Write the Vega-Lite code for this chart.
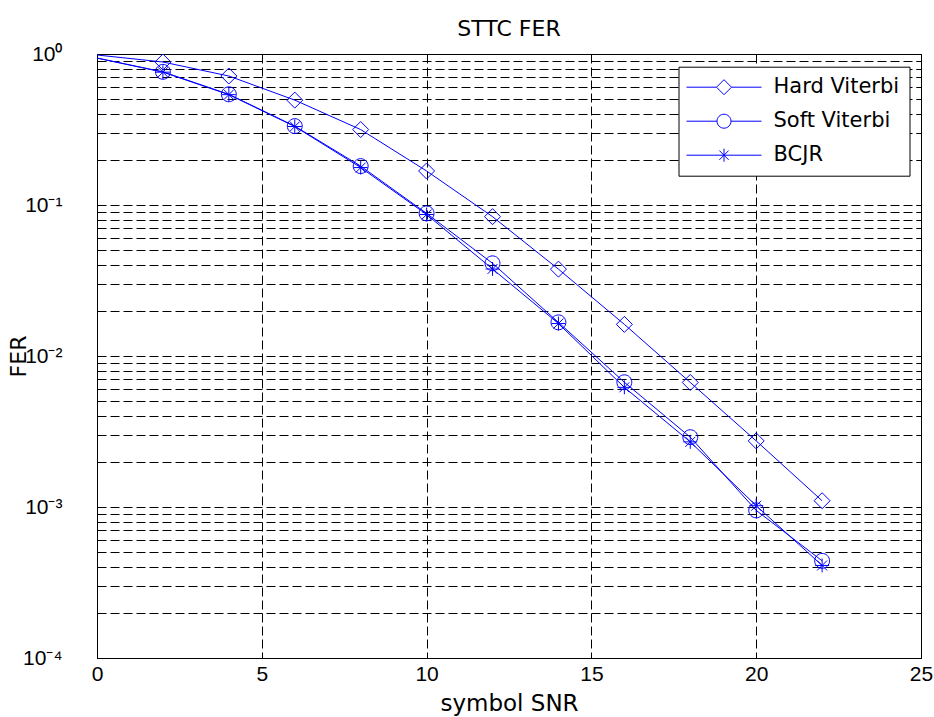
{
  "$schema": "https://vega.github.io/schema/vega-lite/v6.json",
  "width": 824,
  "height": 604,
  "autosize": {"type": "none"},
  "padding": {"left": 97, "top": 54, "right": 13, "bottom": 59},
  "background": "white",
  "config": {
    "view": {"stroke": "black", "strokeWidth": 1},
    "axis": {"labelColor": "black", "titleColor": "black", "tickColor": "black", "domainColor": "black"}
  },
  "title": {"text": "STTC FER", "font": "DejaVu Sans", "fontSize": 22, "fontWeight": "normal", "color": "black", "anchor": "middle", "frame": "group", "offset": 10, "baseline": "bottom", "dy": 30},
  "data": {
    "values": [
      {"series": "Hard Viterbi", "snr": 0, "fer": 0.985},
      {"series": "Hard Viterbi", "snr": 2, "fer": 0.885},
      {"series": "Hard Viterbi", "snr": 4, "fer": 0.715},
      {"series": "Hard Viterbi", "snr": 6, "fer": 0.495},
      {"series": "Hard Viterbi", "snr": 8, "fer": 0.316},
      {"series": "Hard Viterbi", "snr": 10, "fer": 0.168},
      {"series": "Hard Viterbi", "snr": 12, "fer": 0.0837},
      {"series": "Hard Viterbi", "snr": 14, "fer": 0.0376},
      {"series": "Hard Viterbi", "snr": 16, "fer": 0.0162},
      {"series": "Hard Viterbi", "snr": 18, "fer": 0.00668},
      {"series": "Hard Viterbi", "snr": 20, "fer": 0.00274},
      {"series": "Hard Viterbi", "snr": 22, "fer": 0.0011},
      {"series": "Soft Viterbi", "snr": 0, "fer": 0.94},
      {"series": "Soft Viterbi", "snr": 2, "fer": 0.762},
      {"series": "Soft Viterbi", "snr": 4, "fer": 0.541},
      {"series": "Soft Viterbi", "snr": 6, "fer": 0.333},
      {"series": "Soft Viterbi", "snr": 8, "fer": 0.181},
      {"series": "Soft Viterbi", "snr": 10, "fer": 0.088},
      {"series": "Soft Viterbi", "snr": 12, "fer": 0.0411},
      {"series": "Soft Viterbi", "snr": 14, "fer": 0.0167},
      {"series": "Soft Viterbi", "snr": 16, "fer": 0.0067},
      {"series": "Soft Viterbi", "snr": 18, "fer": 0.0029},
      {"series": "Soft Viterbi", "snr": 20, "fer": 0.00095},
      {"series": "Soft Viterbi", "snr": 22, "fer": 0.00044},
      {"series": "BCJR", "snr": 0, "fer": 0.94},
      {"series": "BCJR", "snr": 2, "fer": 0.758},
      {"series": "BCJR", "snr": 4, "fer": 0.538},
      {"series": "BCJR", "snr": 6, "fer": 0.331},
      {"series": "BCJR", "snr": 8, "fer": 0.177},
      {"series": "BCJR", "snr": 10, "fer": 0.0865},
      {"series": "BCJR", "snr": 12, "fer": 0.0377},
      {"series": "BCJR", "snr": 14, "fer": 0.0164},
      {"series": "BCJR", "snr": 16, "fer": 0.0062},
      {"series": "BCJR", "snr": 18, "fer": 0.0027},
      {"series": "BCJR", "snr": 20, "fer": 0.00102},
      {"series": "BCJR", "snr": 22, "fer": 0.00041}
    ]
  },
  "layer": [
    {
      "mark": {"type": "line", "color": "#0000ff", "strokeWidth": 1, "clip": true},
      "encoding": {
        "x": {
          "field": "snr", "type": "quantitative",
          "scale": {"domain": [0, 25], "nice": false, "zero": false},
          "axis": {
            "orient": "bottom", "values": [0, 5, 10, 15, 20, 25],
            "grid": true, "gridDash": [9, 4], "gridColor": "black", "gridOpacity": 1, "gridWidth": 1,
            "tickSize": -5, "labelPadding": 10, "labelFont": "Liberation Sans", "labelFontSize": 21,
            "labelFlush": false, "labelBound": false, "labelOverlap": false,
            "title": "symbol SNR", "titleFont": "DejaVu Sans", "titleFontSize": 23, "titleFontWeight": "normal",
            "titleBaseline": "alphabetic", "titleY": 52
          }
        },
        "y": {
          "field": "fer", "type": "quantitative",
          "scale": {"type": "log", "domain": [0.0001, 1], "nice": false},
          "axis": {
            "orient": "left",
            "values": [0.0001, 0.0002, 0.0003, 0.0004, 0.0005, 0.0006, 0.0007, 0.0008, 0.0009, 0.001, 0.002, 0.003, 0.004, 0.005, 0.006, 0.007, 0.008, 0.009, 0.01, 0.02, 0.03, 0.04, 0.05, 0.06, 0.07, 0.08, 0.09, 0.1, 0.2, 0.3, 0.4, 0.5, 0.6, 0.7, 0.8, 0.9, 1],
            "labelExpr": "abs(log(datum.value)/LN10 - round(log(datum.value)/LN10)) < 0.001 ? (round(log(datum.value)/LN10) == 0 ? '10⁰' : round(log(datum.value)/LN10) == -1 ? '10⁻¹' : round(log(datum.value)/LN10) == -2 ? '10⁻²' : round(log(datum.value)/LN10) == -3 ? '10⁻³' : '10⁻⁴') : ''",
            "grid": true, "gridDash": [9, 4], "gridColor": "black", "gridOpacity": 1, "gridWidth": 1,
            "tickSize": -5, "labelPadding": 40, "labelFont": "Liberation Sans", "labelFontSize": 21,
            "labelFlush": false, "labelBound": false, "labelOverlap": false,
            "title": "FER", "titleFont": "DejaVu Sans", "titleFontSize": 22, "titleFontWeight": "normal",
            "titleBaseline": "alphabetic", "titleX": -72
          }
        },
        "detail": {"field": "series", "type": "nominal"}
      }
    },
    {
      "transform": [{"filter": "datum.snr > 0"}],
      "mark": {"type": "point", "filled": false, "color": "#0000ff", "strokeWidth": 1, "opacity": 1, "size": 256},
      "encoding": {
        "x": {
          "field": "snr", "type": "quantitative",
          "scale": {"domain": [0, 25], "nice": false, "zero": false},
          "axis": {"orient": "top", "values": [0, 5, 10, 15, 20, 25], "labels": false, "grid": false, "domain": false, "tickSize": -5, "title": null}
        },
        "y": {
          "field": "fer", "type": "quantitative",
          "scale": {"type": "log", "domain": [0.0001, 1], "nice": false},
          "axis": {
            "orient": "right",
            "values": [0.0001, 0.0002, 0.0003, 0.0004, 0.0005, 0.0006, 0.0007, 0.0008, 0.0009, 0.001, 0.002, 0.003, 0.004, 0.005, 0.006, 0.007, 0.008, 0.009, 0.01, 0.02, 0.03, 0.04, 0.05, 0.06, 0.07, 0.08, 0.09, 0.1, 0.2, 0.3, 0.4, 0.5, 0.6, 0.7, 0.8, 0.9, 1],
            "labels": false, "grid": false, "domain": false, "tickSize": -5, "title": null
          }
        },
        "shape": {
          "field": "series", "type": "nominal",
          "scale": {
            "domain": ["Hard Viterbi", "Soft Viterbi", "BCJR"],
            "range": ["M-1,0L0,-1L1,0L0,1Z", "M-0.93,0A0.93,0.93 0 1,0 0.93,0A0.93,0.93 0 1,0 -0.93,0", "M0,-0.87L0,0.87M-0.87,0L0.87,0M-0.62,-0.62L0.62,0.62M-0.62,0.62L0.62,-0.62"]
          },
          "legend": null
        }
      }
    },
    {
      "transform": [{"filter": "datum.snr < -1"}],
      "mark": {"type": "point", "filled": false, "color": "#0000ff", "strokeWidth": 1, "opacity": 1, "size": 225},
      "encoding": {
        "x": {"field": "snr", "type": "quantitative", "axis": null},
        "y": {"field": "fer", "type": "quantitative", "axis": null},
        "shape": {
          "field": "series", "type": "nominal",
          "scale": {
            "domain": ["Hard Viterbi", "Soft Viterbi", "BCJR"],
            "range": ["M-5,0L-1,0M1,0L5,0M-1,0L0,-1L1,0L0,1Z", "M-5,0L-0.93,0M0.93,0L5,0M-0.93,0A0.93,0.93 0 1,0 0.93,0A0.93,0.93 0 1,0 -0.93,0", "M-5,0L5,0M0,-0.87L0,0.87M-0.62,-0.62L0.62,0.62M-0.62,0.62L0.62,-0.62"]
          },
          "legend": {
            "orient": "none", "legendX": 581.5, "legendY": 12.7, "title": null,
            "symbolSize": 225, "symbolOffset": 25, "labelOffset": 39, "padding": 10,
            "strokeColor": "black", "fillColor": "white", "cornerRadius": 0,
            "labelFont": "DejaVu Sans", "labelFontSize": 21, "labelColor": "black",
            "rowPadding": 12, "symbolStrokeColor": "#0000ff", "symbolStrokeWidth": 1, "symbolOpacity": 1
          }
        }
      }
    }
  ],
  "resolve": {"axis": {"x": "independent", "y": "independent"}, "scale": {"shape": "independent"}}
}
